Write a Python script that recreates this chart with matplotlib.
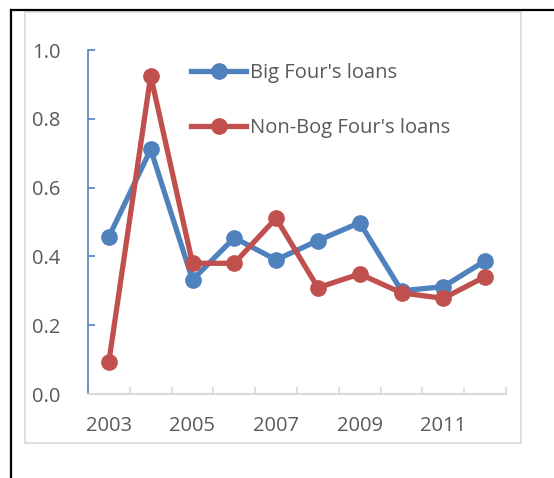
import numpy as np
import matplotlib
matplotlib.use("Agg")
import matplotlib.pyplot as plt
from matplotlib.lines import Line2D
from matplotlib.patches import Rectangle

years = [2003, 2004, 2005, 2006, 2007, 2008, 2009, 2010, 2011, 2012]
big_four = [0.457, 0.711, 0.332, 0.454, 0.390, 0.446, 0.498, 0.300, 0.312, 0.387]
non_big_four = [0.094, 0.925, 0.380, 0.380, 0.511, 0.309, 0.349, 0.294, 0.278, 0.341]
labels = ["Big Four's loans", "Non-Bog Four's loans"]

BLUE = "#4F81BD"
RED = "#C0504D"
TXT = "#595959"
GREY = "#D9D9D9"

plt.rcParams['font.family'] = ['Open Sans', 'DejaVu Sans']

W, H = 554, 478
fig = plt.figure(figsize=(W / 100, H / 100), dpi=100)

# outer black frame (top and left only) and grey chart-area border
fig.add_artist(Line2D([11 / W, 1], [1 - 10 / H, 1 - 10 / H], color="black", lw=1.6,
                      transform=fig.transFigure))
fig.add_artist(Line2D([11 / W, 11 / W], [1 - 10 / H, 0], color="black", lw=1.6,
                      transform=fig.transFigure))
fig.add_artist(Rectangle((25 / W, 1 - 443 / H), (521 - 25) / W, (443 - 12) / H,
                         fill=False, ec=GREY, lw=1.2, transform=fig.transFigure))

ax = fig.add_axes([88 / W, 1 - 394 / H, (506 - 88) / W, (394 - 50) / H])
x = np.arange(len(years))
ax.plot(x, big_four, color=BLUE, lw=3.8, marker="o", ms=11, label=labels[0])
ax.plot(x, non_big_four, color=RED, lw=3.8, marker="o", ms=11, label=labels[1])

ax.set_xlim(-0.5, len(years) - 0.5)
ax.set_ylim(0, 1.0)
ax.set_yticks(np.arange(0, 1.01, 0.2))
ax.set_yticklabels(["{:.1f}".format(v) for v in np.arange(0, 1.01, 0.2)])
ax.set_xticks(x[::2])
ax.set_xticklabels([str(y) for y in years[::2]])
ax.set_xticks(np.arange(-0.5, len(years), 1.0), minor=True)

for s in ["top", "right"]:
    ax.spines[s].set_visible(False)
ax.spines["left"].set_color(BLUE)
ax.spines["left"].set_linewidth(1.2)
ax.spines["bottom"].set_color(GREY)
ax.spines["bottom"].set_linewidth(1.5)

ax.tick_params(axis="y", direction="in", length=5, width=1.2, color=BLUE,
               labelcolor=TXT, labelsize=14.5, pad=20)
ax.tick_params(axis="x", which="major", length=0, labelcolor=TXT, labelsize=14.5, pad=16)
ax.tick_params(axis="x", which="minor", direction="in", length=5, width=1.2, color=GREY)

leg = ax.legend(loc="upper left", bbox_to_anchor=(191 / W, 1 - 63 / H),
                bbox_transform=fig.transFigure, frameon=False, fontsize=14.5,
                handlelength=2.75, handletextpad=0.2, labelspacing=1.75,
                borderaxespad=0, borderpad=0)
for t in leg.get_texts():
    t.set_color(TXT)

fig.savefig("out.png", dpi=100)
